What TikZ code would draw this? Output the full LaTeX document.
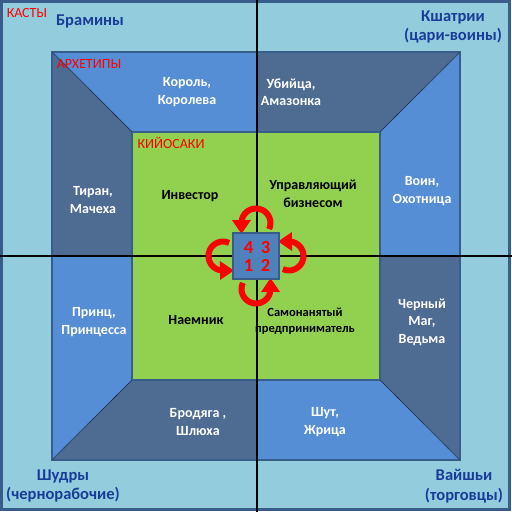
\documentclass[tikz,border=0pt]{standalone}
\usepackage{fontspec}
\setmainfont{Carlito}
\usetikzlibrary{arrows.meta}

\definecolor{castefill}{HTML}{93CDDD}
\definecolor{archlight}{HTML}{558ED5}
\definecolor{archdark}{HTML}{4E6B92}
\definecolor{kiyofill}{HTML}{92D050}
\definecolor{edgeblue}{HTML}{385D8A}
\definecolor{castetext}{HTML}{1A3C99}
\definecolor{corefill}{HTML}{4F81BD}

\tikzset{
  arch/.style={font=\bfseries\fontsize{14}{17.5}\selectfont, text=white, align=center},
  kiy/.style={font=\bfseries\fontsize{14}{17.5}\selectfont, text=black, align=center},
  castename/.style={font=\bfseries\fontsize{16.5}{19.5}\selectfont, text=castetext, align=center},
  tag/.style={font=\fontsize{14}{16}\selectfont, text=red},
  num/.style={font=\bfseries\fontsize{18.5}{20}\selectfont, text=red, inner sep=0pt},
  cyc/.style={red, line width=6pt, -{Triangle[width=18pt,length=14pt]}},
  piece/.style={draw=edgeblue, line width=0.8pt},
}

\begin{document}
\begin{tikzpicture}[x=1pt,y=-1pt]
  \useasboundingbox (0,0) rectangle (512,512);
  % castes
  \draw[edgeblue, line width=2.5pt, fill=castefill] (1.25,1.25) rectangle (509.5,509.5);

  % archetypes
  \draw[piece, fill=archlight] (52,52) -- (257,52) -- (257,132) -- (132,132) -- cycle;
  \draw[piece, fill=archdark] (257,52) -- (460,52) -- (380,132) -- (257,132) -- cycle;
  \draw[piece, fill=archlight] (460,52) -- (460,256) -- (380,256) -- (380,132) -- cycle;
  \draw[piece, fill=archdark] (460,256) -- (460,460) -- (380,380) -- (380,256) -- cycle;
  \draw[piece, fill=archlight] (460,460) -- (257,460) -- (257,380) -- (380,380) -- cycle;
  \draw[piece, fill=archdark] (257,460) -- (52,460) -- (132,380) -- (257,380) -- cycle;
  \draw[piece, fill=archlight] (52,460) -- (52,256) -- (132,256) -- (132,380) -- cycle;
  \draw[piece, fill=archdark] (52,256) -- (52,52) -- (132,132) -- (132,256) -- cycle;
  \draw[edgeblue, line width=2pt] (52,52) rectangle (460,460);

  % kiyosaki
  \draw[edgeblue, line width=2pt, fill=kiyofill] (132,132) rectangle (380,380);
  \draw[densely dotted] (52,52) -- (132,132) (460,52) -- (380,132)
                        (460,460) -- (380,380) (52,460) -- (132,380);

  % axes
  \coordinate (up) at (257,0);
  \coordinate (down) at (257,512);
  \coordinate (left) at (0,256);
  \coordinate (right) at (512,256);
  \draw[line width=1.2pt] (up) -- (down);
  \draw[line width=1.2pt] (left) -- (right);

  % cycle
  \foreach \a in {0,90,180,270}
    \draw[cyc, rotate around={\a:(256,256)}] (269.1,229.1) arc[start angle=25, end angle=-180, radius=14.5] -- (241.5,234);
  \node[draw=edgeblue, line width=2pt, fill=corefill, minimum size=46pt, inner sep=0pt] (core) at (256,256) {};
  \node[num] (q4) at (248.5,247.5) {4};
  \node[num] (q3) at (265.5,247.5) {3};
  \node[num] (q1) at (248.5,265) {1};
  \node[num] (q2) at (265.5,265) {2};

  % labels
  \node[tag] (castes) at (27,13) {КАСТЫ};
  \node[tag] (archetypes) at (89,64) {АРХЕТИПЫ};
  \node[tag] (kiyosaki) at (171,143) {КИЙОСАКИ};

  \node[castename] (brahmin) at (90,21) {Брамины};
  \node[castename] (kshatriya) at (453,27) {Кшатрии\\(цари-воины)};
  \node[castename] (shudra) at (63,486) {Шудры\\(чернорабочие)};
  \node[castename] (vaishya) at (464,486) {Вайшьи\\(торговцы)};

  \node[arch] (king) at (187,92) {Король,\\Королева};
  \node[arch] (killer) at (291,92) {Убийца,\\Амазонка};
  \node[arch] (tyrant) at (93,200) {Тиран,\\Мачеха};
  \node[arch] (warrior) at (422,191) {Воин,\\Охотница};
  \node[arch] (mage) at (422,322) {Черный\\Маг,\\Ведьма};
  \node[arch] (prince) at (94,322) {Принц,\\Принцесса};
  \node[arch] (tramp) at (198,422) {Бродяга ,\\Шлюха};
  \node[arch] (jester) at (325,422) {Шут,\\Жрица};

  \node[kiy] (investor) at (190,196) {Инвестор};
  \node[kiy] (manager) at (313,194) {Управляющий\\бизнесом};
  \node[kiy] (merc) at (196,320) {Наемник};
  \node[kiy, font=\bfseries\fontsize{12.5}{16}\selectfont] (selfemp) at (305,321) {Самонанятый\\предприниматель};
\end{tikzpicture}
\end{document}
